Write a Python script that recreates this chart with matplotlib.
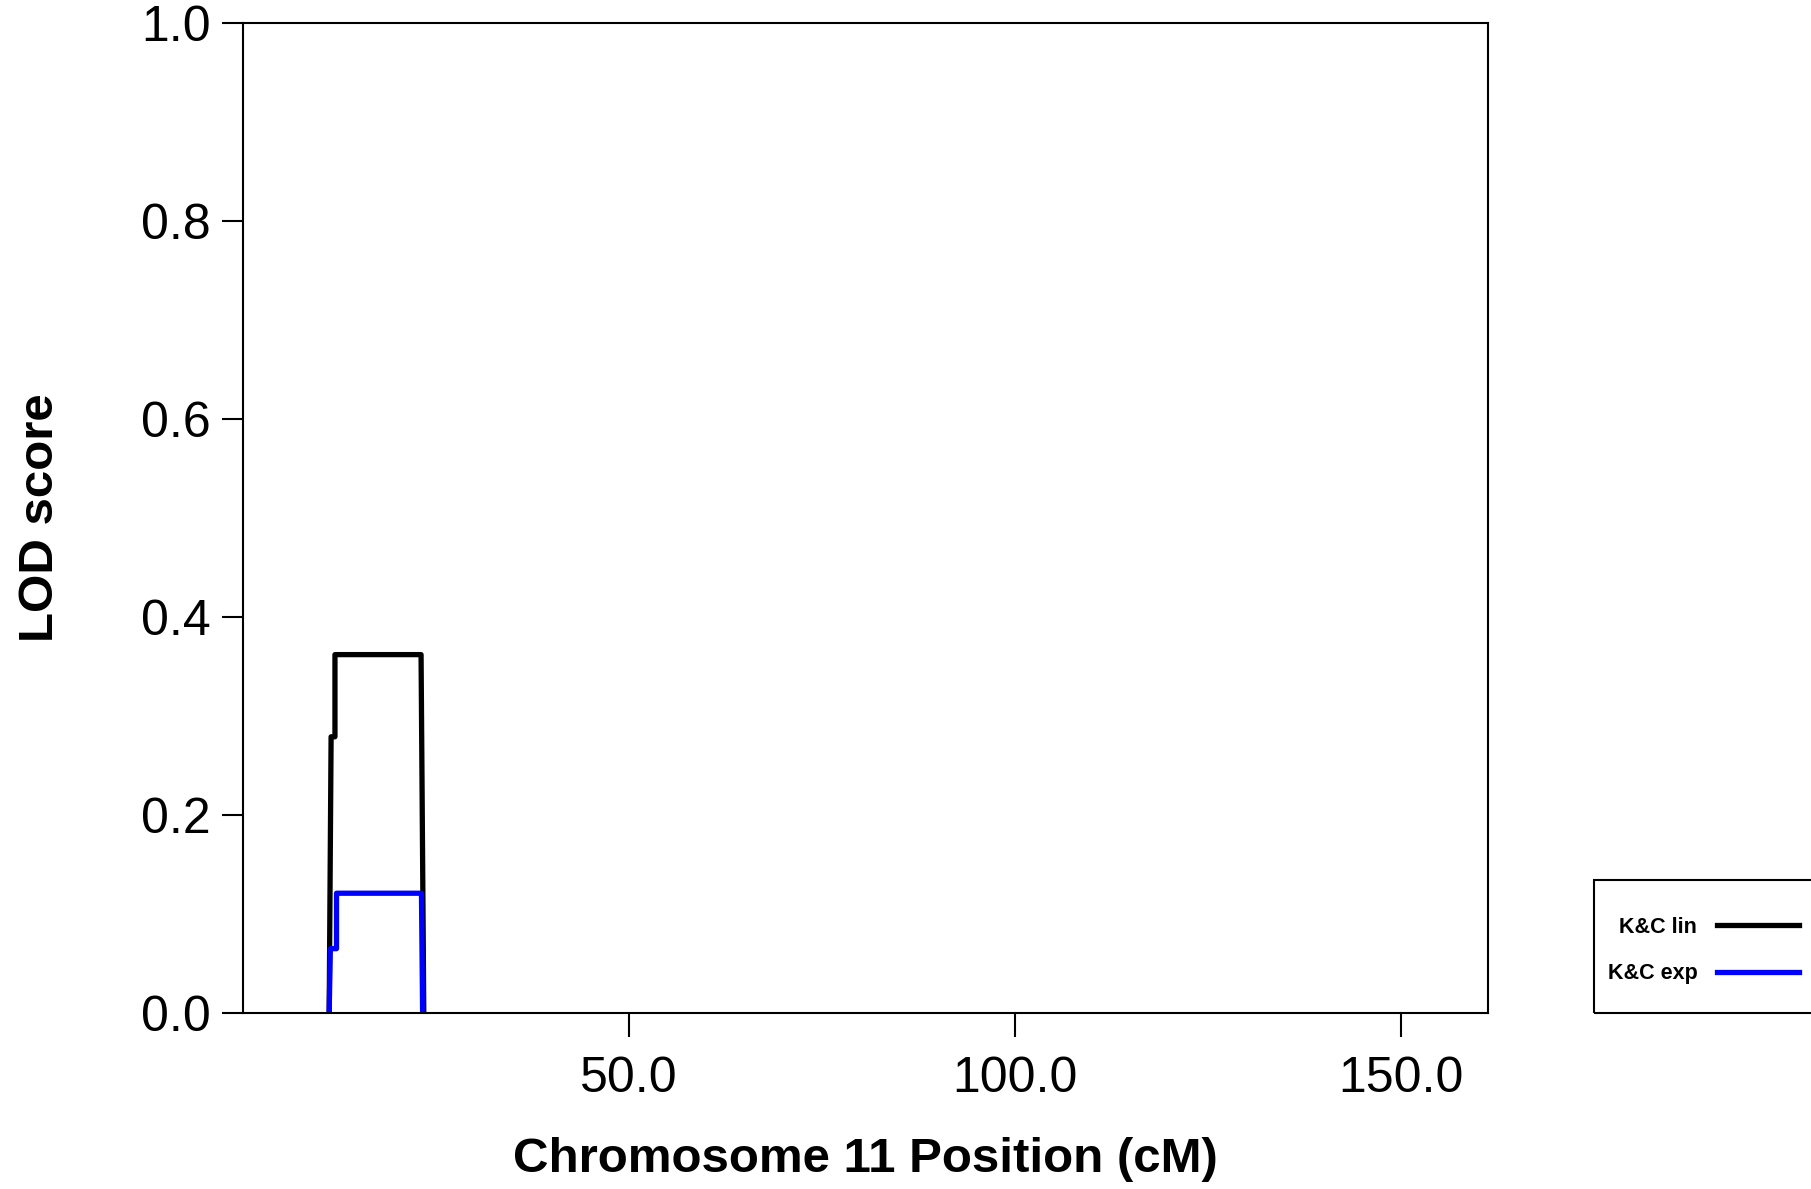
import matplotlib
matplotlib.use("Agg")
import matplotlib.pyplot as plt
from matplotlib.patches import Rectangle

plt.rcParams['font.family'] = ['Liberation Sans', 'DejaVu Sans']

# LOD profile, chromosome 11 (cM, LOD)
lin_pos = [11.2, 11.45, 11.45, 11.95, 11.95, 23.1, 23.45]
lin_lod = [0.0, 0.279, 0.279, 0.279, 0.362, 0.362, 0.0]
exp_pos = [11.2, 11.35, 12.15, 12.15, 23.15, 23.3]
exp_lod = [0.0, 0.065, 0.065, 0.121, 0.121, 0.0]

xticks = [50, 100, 150]
yticks = [0.0, 0.2, 0.4, 0.6, 0.8, 1.0]

fig = plt.figure(figsize=(18.11, 11.89), dpi=100)
ax = fig.add_axes([0.134, 0.148, 0.6874, 0.8327])

ax.plot(lin_pos, lin_lod, color='black', lw=3.8, label='K&C lin')
ax.plot(exp_pos, exp_lod, color='#0000ff', lw=3.8, label='K&C exp')

ax.set_xlim(0, 161.2)
ax.set_ylim(0, 1.0)
ax.set_xticks(xticks)
ax.set_xticklabels([f"{v:.1f}" for v in xticks])
ax.set_yticks(yticks)
ax.set_yticklabels([f"{v:.1f}" for v in yticks])
ax.tick_params(axis='both', direction='out', labelsize=36, width=1.5, color='black')
ax.tick_params(axis='x', length=17, pad=14)
ax.tick_params(axis='y', length=15, pad=8)
for s in ax.spines.values():
    s.set_linewidth(1.5)

ax.set_xlabel('Chromosome 11 Position (cM)', fontsize=35.5, fontweight='bold', labelpad=25)
ax.set_ylabel('LOD score', fontsize=35.5, fontweight='bold', labelpad=56)

# legend frame (runs off the right edge like the original)
fig.patches.append(Rectangle((0.8801, 0.148), 0.2, 0.1119, transform=fig.transFigure,
                             facecolor='none', edgecolor='black', linewidth=1.5, zorder=-1))
leg = ax.legend(loc='center left', bbox_to_anchor=(0.8877, 0.2005), bbox_transform=fig.transFigure,
                markerfirst=False, prop={'weight': 'bold', 'size': 15.5},
                handlelength=3.8, handletextpad=0.9, borderpad=0, labelspacing=1.17,
                frameon=False, borderaxespad=0)

fig.savefig('out.png', dpi=100)
